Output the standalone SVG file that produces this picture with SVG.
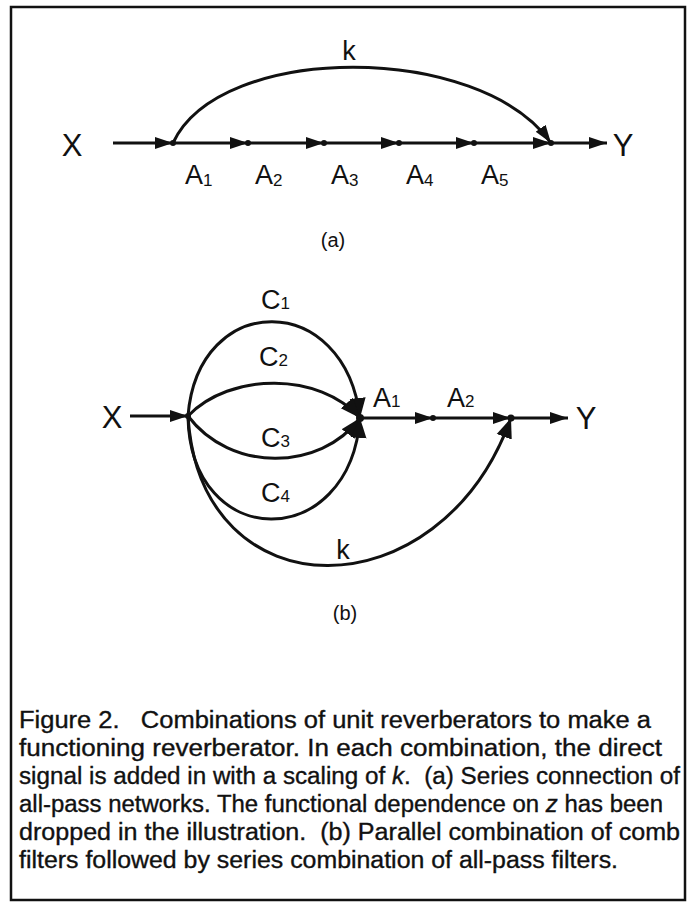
<svg xmlns="http://www.w3.org/2000/svg" width="693" height="904" viewBox="0 0 693 904">
<style>
.ln{fill:none;stroke:#111;stroke-width:3}
.lb{font-family:"Liberation Sans",Arial,sans-serif;fill:#111}
.big{font-size:31px}
.mid{font-size:27px}
.sub{font-size:17px}
.cap{font-family:"Liberation Sans",Arial,sans-serif;font-size:23px;fill:#111;stroke:#111;stroke-width:0.35;white-space:pre}
.dot{fill:#111}
</style>
<defs>
<marker id="ah" markerWidth="20" markerHeight="14" refX="18" refY="7" orient="auto" markerUnits="userSpaceOnUse">
<path d="M0,1 L18,7 L0,13 Z" fill="#111"/>
</marker>
<marker id="ahb" markerWidth="24" markerHeight="18" refX="20" refY="9" orient="auto" markerUnits="userSpaceOnUse">
<path d="M0,1 L20,9 L0,17 Z" fill="#111"/>
</marker>
</defs>
<rect x="11" y="7" width="674" height="893" fill="#fff" stroke="#111" stroke-width="2.5"/>

<g id="connectors">
<path class="ln" d="M113,143 L173,143" marker-end="url(#ah)"/>
<path class="ln" d="M173,143 L248,143" marker-end="url(#ah)"/>
<path class="ln" d="M248,143 L324,143" marker-end="url(#ah)"/>
<path class="ln" d="M324,143 L399,143" marker-end="url(#ah)"/>
<path class="ln" d="M399,143 L474,143" marker-end="url(#ah)"/>
<path class="ln" d="M474,143 L551,143" marker-end="url(#ah)"/>
<path class="ln" d="M551,143 L607,143" marker-end="url(#ah)"/>
<path class="ln" d="M173,143 C220,42 480,42 551,143" marker-end="url(#ah)"/>
<path class="ln" d="M130,416 L188,416" marker-end="url(#ah)"/>
<path class="ln" d="M188,416 C198,290 345,290 360,418" marker-end="url(#ahb)"/>
<path class="ln" d="M188,416 C230,372 320,372 360,418" marker-end="url(#ahb)"/>
<path class="ln" d="M188,416 C230,472 320,472 360,418" marker-end="url(#ahb)"/>
<path class="ln" d="M188,416 C190,553 350,553 360,418" marker-end="url(#ahb)"/>
<path class="ln" d="M360,418 L433,418" marker-end="url(#ah)"/>
<path class="ln" d="M433,418 L511,418" marker-end="url(#ah)"/>
<path class="ln" d="M511,418 L568,418" marker-end="url(#ah)"/>
<path class="ln" d="M188,416 C200,615 440,615 511,418" marker-end="url(#ahb)"/>
</g>

<g id="nodes-a">
<g id="a-X"><text class="lb big" x="72" y="156" text-anchor="middle">X</text></g>
<g id="a-Y"><text class="lb big" x="623" y="156" text-anchor="middle">Y</text></g>
<g id="a-n1"><circle class="dot" cx="173" cy="143" r="3"/><text class="lb mid" x="185" y="184">A<tspan class="sub" dy="2">1</tspan></text></g>
<g id="a-n2"><circle class="dot" cx="248" cy="143" r="3"/><text class="lb mid" x="255" y="184">A<tspan class="sub" dy="2">2</tspan></text></g>
<g id="a-n3"><circle class="dot" cx="324" cy="143" r="3"/><text class="lb mid" x="331" y="184">A<tspan class="sub" dy="2">3</tspan></text></g>
<g id="a-n4"><circle class="dot" cx="399" cy="143" r="3"/><text class="lb mid" x="406" y="184">A<tspan class="sub" dy="2">4</tspan></text></g>
<g id="a-n5"><circle class="dot" cx="474" cy="143" r="3"/><text class="lb mid" x="481" y="184">A<tspan class="sub" dy="2">5</tspan></text></g>
<g id="a-n6"><circle class="dot" cx="551" cy="143" r="3"/></g>
<g id="a-k"><text class="lb mid" x="349" y="60" text-anchor="middle">k</text></g>
<g id="a-cap"><text class="lb" font-size="20" x="333" y="247" text-anchor="middle">(a)</text></g>
</g>

<g id="nodes-b">
<g id="b-X"><text class="lb big" x="112" y="428" text-anchor="middle">X</text></g>
<g id="b-Y"><text class="lb big" x="586" y="429" text-anchor="middle">Y</text></g>
<g id="b-L"><circle class="dot" cx="188" cy="416" r="3"/></g>
<g id="b-R"><circle class="dot" cx="360" cy="418" r="4"/><text class="lb mid" x="373" y="407">A<tspan class="sub">1</tspan></text></g>
<g id="b-M"><circle class="dot" cx="433" cy="418" r="3"/><text class="lb mid" x="447" y="407">A<tspan class="sub">2</tspan></text></g>
<g id="b-J"><circle class="dot" cx="511" cy="418" r="3.5"/></g>
<g id="b-C1"><text class="lb mid" x="261" y="309">C<tspan class="sub">1</tspan></text></g>
<g id="b-C2"><text class="lb mid" x="259" y="366">C<tspan class="sub">2</tspan></text></g>
<g id="b-C3"><text class="lb mid" x="261" y="447">C<tspan class="sub">3</tspan></text></g>
<g id="b-C4"><text class="lb mid" x="261" y="502">C<tspan class="sub">4</tspan></text></g>
<g id="b-k"><text class="lb mid" x="343" y="559" text-anchor="middle">k</text></g>
<g id="b-cap"><text class="lb" font-size="20" x="345" y="620" text-anchor="middle">(b)</text></g>
</g>

<g id="caption">
<text class="cap" x="19" y="728" textLength="632" lengthAdjust="spacingAndGlyphs">Figure 2.   Combinations of unit reverberators to make a</text>
<text class="cap" x="19" y="756" textLength="643" lengthAdjust="spacingAndGlyphs">functioning reverberator. In each combination, the direct</text>
<text class="cap" x="19" y="784" textLength="661" lengthAdjust="spacingAndGlyphs">signal is added in with a scaling of <tspan font-style="italic">k</tspan>.  (a) Series connection of</text>
<text class="cap" x="19" y="812" textLength="644" lengthAdjust="spacingAndGlyphs">all-pass networks. The functional dependence on <tspan font-style="italic">z</tspan> has been</text>
<text class="cap" x="19" y="840" textLength="661" lengthAdjust="spacingAndGlyphs">dropped in the illustration.  (b) Parallel combination of comb</text>
<text class="cap" x="19" y="868" textLength="599" lengthAdjust="spacingAndGlyphs">filters followed by series combination of all-pass filters.</text>
</g>
</svg>
